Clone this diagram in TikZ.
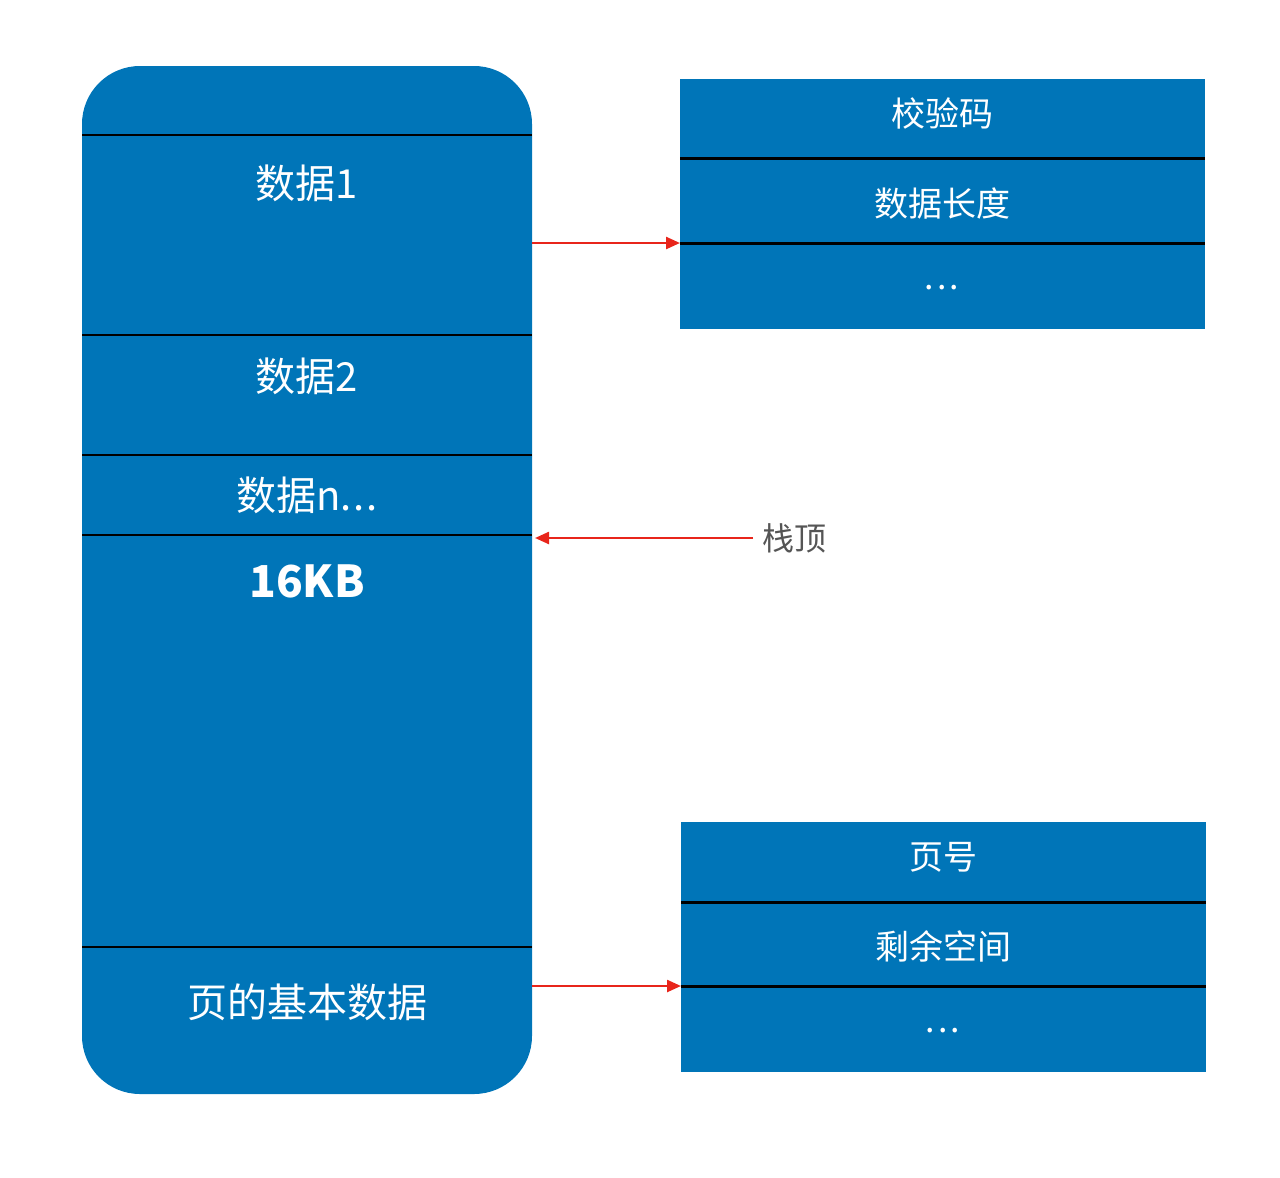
\documentclass[tikz,border=0pt]{standalone}
\usepackage{fontspec}
\setmainfont{Noto Sans CJK SC}
\newfontfamily\cjk{Noto Sans CJK SC}
\usetikzlibrary{arrows.meta}
\definecolor{boxblue}{HTML}{0075B8}
\definecolor{arrred}{HTML}{E8251B}
\definecolor{lblgray}{HTML}{555555}
\tikzset{
  x=1pt, y=-1pt,
  divider/.style={black, line width=2.6pt},
  wtext/.style={text=white, font=\cjk\fontsize{40}{44}\selectfont, inner sep=0pt},
  stext/.style={text=white, font=\cjk\fontsize{34}{38}\selectfont, inner sep=0pt},
  redarrow/.style={arrred, line width=2.4pt, -{Triangle[length=14pt,width=12pt]}},
}
\begin{document}
\begin{tikzpicture}
\useasboundingbox (0,0) rectangle (1280,1178);
% main page
\fill[boxblue, rounded corners=58pt] (82,66) rectangle (532,1094);
\coordinate (mainE1) at (532,243);
\coordinate (mainE2) at (535,538);
\coordinate (mainE3) at (532,986);
\foreach \yy in {135,335,455,535,947} \draw[divider] (82,\yy) -- (532,\yy);
\node[wtext] (d1) at (307,183) {数据1};
\node[wtext] (d2) at (307,376) {数据2};
\node[wtext] (dn) at (307,495) {数据n.\kern2pt.\kern2pt.};
\node[wtext, font=\cjk\bfseries\fontsize{44}{48}\selectfont] (kb) at (307,581) {16KB};
\node[wtext] (base) at (307,1002) {页的基本数据};
% top right box
\fill[boxblue] (680,79) rectangle (1205,329);
\draw[divider] (680,158.5) -- (1205,158.5);
\draw[divider] (680,243.5) -- (1205,243.5);
\node[stext] (chk) at (942,113) {校验码};
\node[stext] (len) at (942,204) {数据长度};
\node[stext] (dots1) at (942,288) {.\kern3pt.\kern3pt.};
\coordinate (topW) at (680,243);
% bottom right box
\fill[boxblue] (681,822) rectangle (1206,1072);
\draw[divider] (681,902.5) -- (1206,902.5);
\draw[divider] (681,986.5) -- (1206,986.5);
\node[stext] (pno) at (943,857) {页号};
\node[stext] (free) at (943,946) {剩余空间};
\node[stext] (dots2) at (943,1031) {.\kern3pt.\kern3pt.};
\coordinate (botW) at (681,986);
% stack top label
\node[text=lblgray, font=\cjk\fontsize{32}{36}\selectfont, inner sep=0pt, anchor=west] (top) at (762,538) {栈顶};
\coordinate (topL) at (753,538);
% arrows
\draw[redarrow] (mainE1) -- (topW);
\draw[redarrow] (topL) -- (mainE2);
\draw[redarrow] (mainE3) -- (botW);
\end{tikzpicture}
\end{document}
